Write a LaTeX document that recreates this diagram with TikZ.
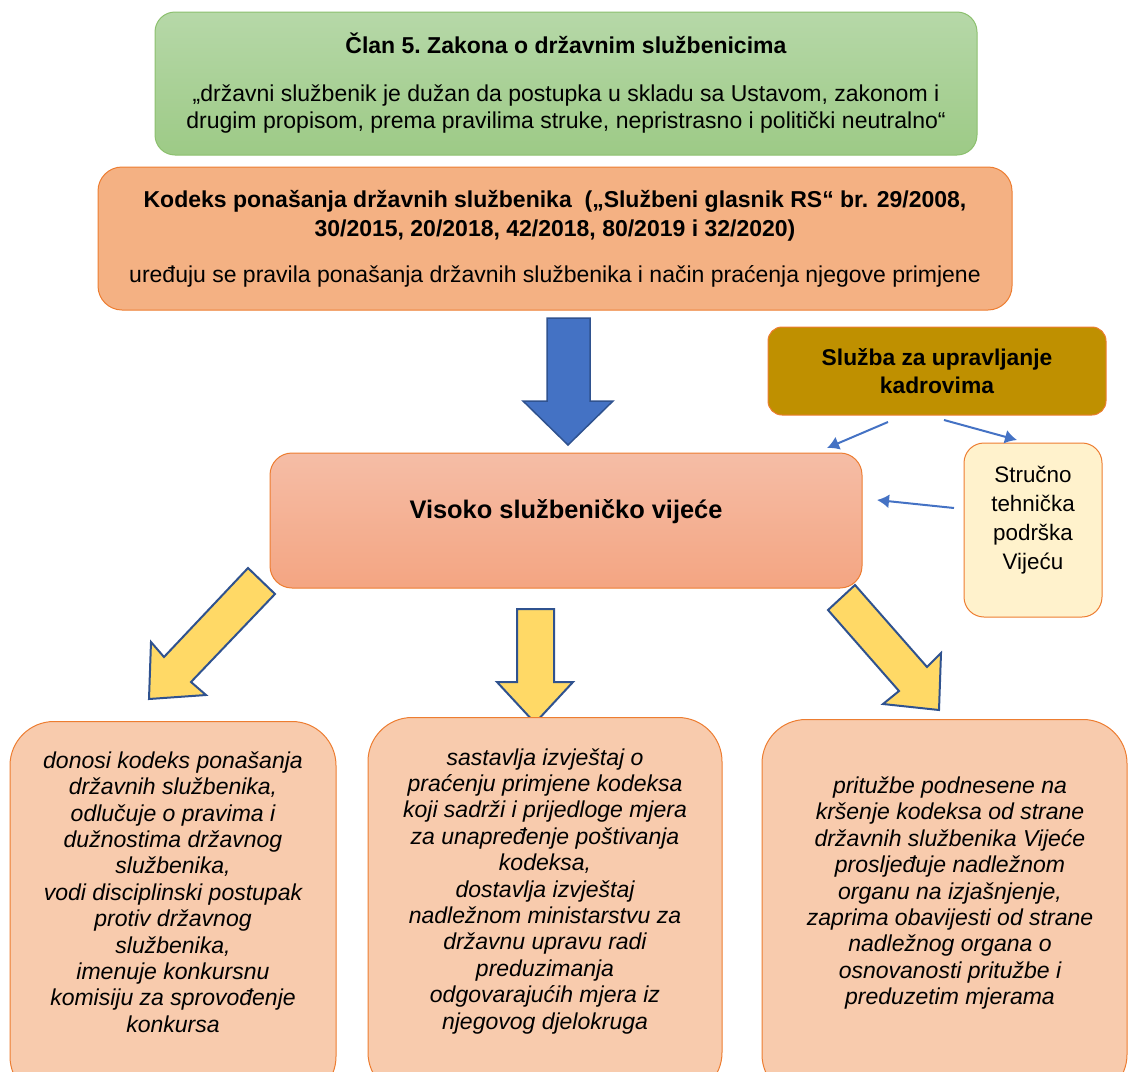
\documentclass[tikz,border=0pt]{standalone}
\usepackage{fontspec}
\setmainfont{Liberation Sans}
\usetikzlibrary{positioning,arrows.meta}

\definecolor{greentop}{HTML}{B6D8A8}
\definecolor{greenbot}{HTML}{9DCA86}
\definecolor{greenline}{HTML}{8CC06E}
\definecolor{boxline}{HTML}{ED7D31}
\definecolor{kodeksfill}{HTML}{F4B183}
\definecolor{sluzbafill}{HTML}{BF9000}
\definecolor{vsvtop}{HTML}{F5BDA6}
\definecolor{vsvbot}{HTML}{F4A582}
\definecolor{podrskafill}{HTML}{FFF2CC}
\definecolor{lowfill}{HTML}{F8CBAD}
\definecolor{arrowyellow}{HTML}{FFD966}
\definecolor{arrowline}{HTML}{2F528F}
\definecolor{bigblue}{HTML}{4472C4}

\begin{document}
\begin{tikzpicture}[x=0.5pt, y=-0.5pt]
        \tikzstyle{every node}=[inner sep=0pt, align=center, font=\fontsize{11.5}{13.5}\selectfont]
        \tikzstyle{box}=[draw=boxline, line width=0.5pt]
        \tikzstyle{lowbox}=[box, fill=lowfill, rounded corners=22pt, minimum height=189.5pt, anchor=north]
        \tikzstyle{lowtext}=[font=\fontsize{11.5}{13.2}\selectfont\itshape]
        \tikzstyle{yarrow}=[fill=arrowyellow, draw=arrowline, line width=1pt]
        \tikzstyle{link}=[draw=bigblue, line width=1pt, -{Latex[length=6pt, width=7pt]}]

        \useasboundingbox (0,0) rectangle (1129,1071);

        \node (zakon) [box, draw=greenline, top color=greentop, bottom color=greenbot, rounded corners=10pt,
                minimum width=411pt, minimum height=71.5pt] at (566,83.5)
            {\textbf{Član 5.\ Zakona o državnim službenicima}\\[10.5pt]
             „državni službenik je dužan da postupka u skladu sa Ustavom, zakonom i\\
             drugim propisom, prema pravilima struke, nepristrasno i politički neutralno“};

        \node (kodeks) [box, fill=kodeksfill, rounded corners=12pt, minimum width=457pt, minimum height=71.5pt,
                font=\fontsize{11.5}{14.5}\selectfont] at (555,238.5)
            {\textbf{Kodeks ponašanja državnih službenika\ \ („Službeni glasnik RS“ br. 29/2008,}\\
             \textbf{30/2015, 20/2018, 42/2018, 80/2019 i 32/2020)}\\[8.5pt]
             uređuju se pravila ponašanja državnih službenika i način praćenja njegove primjene};

        \node (sluzba) [box, fill=sluzbafill, rounded corners=7pt, minimum width=169pt, minimum height=44pt,
                font=\fontsize{11.4}{14}\selectfont] at (937,371)
            {\textbf{Služba za upravljanje}\\\textbf{kadrovima}};

        \node (vsv) [box, top color=vsvtop, bottom color=vsvbot, rounded corners=11pt,
                minimum width=296pt, minimum height=67.5pt] at (566,520.5) {};
        \node (vsv text) [font=\fontsize{12.7}{14}\selectfont\bfseries] at (566,512) {Visoko službeničko vijeće};

        \node (podrska) [box, fill=podrskafill, rounded corners=10pt, minimum width=69pt, minimum height=87pt] at (1033,530) {};
        \node (podrska text) [font=\fontsize{11.2}{14.5}\selectfont] at (1033,520) {Stručno\\tehnička\\podrška\\Vijeću};

        % velika strelica
        \draw[fill=bigblue, draw=arrowline, line width=0.75pt]
            (547,318) -- (590,318) -- (590,401) -- (613,401) -- (568,445) -- (523,401) -- (547,401) -- cycle;

        % tanke strelice
        \coordinate (sluzba a) at (888,422);
        \coordinate (sluzba b) at (944,420);
        \coordinate (vsv a) at (827,448);
        \coordinate (podrska a) at (1017,440);
        \coordinate (podrska b) at (954,508);
        \coordinate (vsv b) at (877,500);
        \draw[link] (sluzba a) -- (vsv a);
        \draw[link] (sluzba b) -- (podrska a);
        \draw[link] (podrska b) -- (vsv b);

        % zute strelice
        \draw[yarrow] (248,568) -- (275,594) -- (191,682) -- (206,695) -- (149,699) -- (151,642) -- (164,657) -- cycle;
        \draw[yarrow] (517,609) -- (554,609) -- (554,682) -- (573,682) -- (535,723) -- (497,682) -- (517,682) -- cycle;
        \draw[yarrow] (855,585) -- (927,667) -- (941,653) -- (939,710) -- (883,704) -- (899,691) -- (828,610) -- cycle;

        \node (lijevo) [lowbox, minimum width=163pt] at (173,721) {};
        \node (sredina) [lowbox, minimum width=177pt] at (545,717) {};
        \node (desno) [lowbox, minimum width=182.5pt] at (944.5,719) {};

        \node (lijevo text) [lowtext] at (173,892)
            {donosi kodeks ponašanja\\državnih službenika,\\odlučuje o pravima i\\dužnostima državnog\\službenika,\\
             vodi disciplinski postupak\\protiv državnog\\službenika,\\imenuje konkursnu\\komisiju za sprovođenje\\konkursa};
        \node (sredina text) [lowtext] at (545,891)
            {sastavlja izvještaj o\\praćenju primjene kodeksa\\koji sadrži i prijedloge mjera\\za unapređenje poštivanja\\kodeksa,\\
             dostavlja izvještaj\\nadležnom ministarstvu za\\državnu upravu radi\\preduzimanja\\odgovarajućih mjera iz\\njegovog djelokruga};
        \node (desno text) [lowtext] at (950,893)
            {pritužbe podnesene na\\kršenje kodeksa od strane\\državnih službenika Vijeće\\prosljeđuje nadležnom\\organu na izjašnjenje,\\
             zaprima obavijesti od strane\\nadležnog organa o\\osnovanosti pritužbe i\\preduzetim mjerama};

    \end{tikzpicture}
\end{document}
